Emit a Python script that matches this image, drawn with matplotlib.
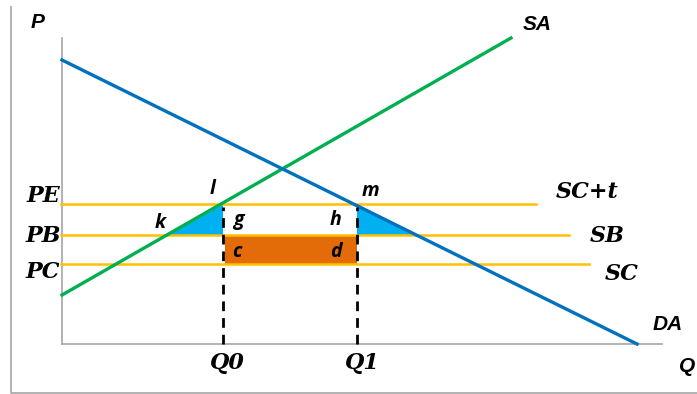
import matplotlib
matplotlib.use("Agg")
import matplotlib.pyplot as plt
from matplotlib.patches import Polygon, Rectangle

# ---- data (chart units: x = quantity, y = price) ----
origin = (62, 50)
axis_top = 356
axis_right = 662
SA_x = [62, 511]
SA_y = [99, 356]
DA_x = [62, 637]
DA_y = [334, 50]
price_names = ["PE", "PB", "PC"]
price_levels = [190, 159, 130]
price_line_ends = [536, 569, 589]
price_line_labels = ["SC+t", "SB", "SC"]
q_names = ["Q0", "Q1"]
q_levels = [223, 357]
k_x = 167     # SA meets PB
dw_right_x = 417  # DA meets PB

GREEN = "#00B050"
BLUE = "#0070C0"
YELLOW = "#FFC000"
ORANGE = "#E36C09"
CYAN = "#00B0F0"
GRAY = "#A6A6A6"

fig = plt.figure(figsize=(6.97, 3.94), dpi=100)
ax = fig.add_axes([0, 0, 1, 1])
ax.set_xlim(0, 697)
ax.set_ylim(0, 394)
ax.axis("off")

serif = dict(family="DejaVu Serif", style="italic", weight="bold")
sans = dict(family="Liberation Sans", style="italic", weight="bold")
small = dict(family="Open Sans", style="italic", weight="bold")

# outer frame (left and bottom)
ax.plot([11, 11, 697], [388, 1, 1], color=GRAY, lw=1.2, solid_capstyle="butt")

# axes
ax.plot([origin[0], origin[0]], [origin[1], axis_top], color=GRAY, lw=1.2)
ax.plot([origin[0], axis_right], [origin[1], origin[1]], color=GRAY, lw=1.2)

# shaded areas
pe, pb, pc = price_levels
q0, q1 = q_levels
ax.add_patch(Rectangle((q0 + 2, pc), q1 - q0 - 2, pb - pc, facecolor=ORANGE, edgecolor="none", zorder=2))
ax.add_patch(Polygon([(k_x, pb), (q0, pe), (q0, pb)], closed=True, facecolor=CYAN, edgecolor="none", zorder=2))
ax.add_patch(Polygon([(q1, pe), (q1, pb), (dw_right_x, pb)], closed=True, facecolor=CYAN, edgecolor="none", zorder=2))

# price lines
for lvl, xe in zip(price_levels, price_line_ends):
    ax.plot([origin[0] - 1, xe], [lvl, lvl], color=YELLOW, lw=1.8, zorder=3)

# supply / demand
ax.plot(SA_x, SA_y, color=GREEN, lw=2.4, zorder=4)
ax.plot(DA_x, DA_y, color=BLUE, lw=2.4, zorder=4)

# dashed quantity lines
for q in q_levels:
    ax.plot([q, q], [origin[1], pe - 3], color="black", lw=2.0, ls=(0, (3.5, 2.5)), zorder=5)

# axis labels
ax.text(38, 372, "P", fontsize=15, ha="center", va="center", **sans)
ax.text(687, 27, "Q", fontsize=15, ha="center", va="center", **sans)
ax.text(537, 370, "SA", fontsize=15, ha="center", va="center", **sans)
ax.text(668, 69, "DA", fontsize=15, ha="center", va="center", **sans)

# price labels
for name, y in zip(price_names, [198, 158, 122]):
    ax.text(43, y, name, fontsize=16, ha="center", va="center", **serif)
for name, x, y in zip(price_line_labels, [587, 607, 622], [202, 158, 120]):
    ax.text(x, y, name, fontsize=16, ha="center", va="center", **serif)
for name, x in zip(q_names, [227, 362]):
    ax.text(x, 31, name, fontsize=16, ha="center", va="center", **serif)

# small region labels
for t, x, y in [("l", 213, 205), ("m", 370, 203), ("k", 160, 171), ("g", 238, 174),
                ("h", 336, 174), ("c", 237, 142), ("d", 336, 142)]:
    ax.text(x, y, t, fontsize=14, ha="center", va="center", **small)

fig.savefig("out.png", dpi=100)
